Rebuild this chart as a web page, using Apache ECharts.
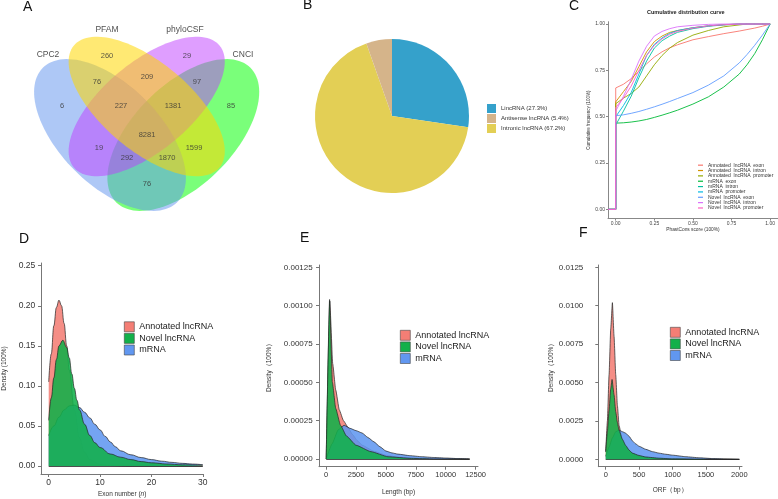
<!DOCTYPE html>
<html><head><meta charset="utf-8">
<script src="https://cdn.jsdelivr.net/npm/echarts@6/dist/echarts.min.js"></script>
<style>html,body{margin:0;padding:0;background:#fff}#c{width:778px;height:499px}</style>
</head><body><div id="c"></div>
<script>
// ---------- Panel A : Venn ----------
const vennSets = ['CPC2', 'PFAM', 'phyloCSF', 'CNCI'];
const vennCounts = [260, 29, 76, 209, 97, 6, 227, 1381, 85, 8281, 19, 1599, 292, 1870, 76];
// ---------- Panel B : pie ----------
const pieNames = ['LincRNA (27.3%)', 'Intronic lncRNA (67.2%)', 'Antisense lncRNA (5.4%)'];
const pieValues = [27.3, 67.2, 5.4];
const pieLegendOrder = ['LincRNA (27.3%)', 'Antisense lncRNA (5.4%)', 'Intronic lncRNA (67.2%)'];
// ---------- Panel C : cumulative distribution ----------
const cdfNames = ['Annotated  lncRNA  exon', 'Annotated  lncRNA  intron', 'Annotated  lncRNA  promoter',
  'mRNA  exon', 'mRNA  intron', 'mRNA  promoter', 'Novel  lncRNA  exon', 'Novel  lncRNA  intron', 'Novel  lncRNA  promoter'];
const cdfX = [0, 0.05, 0.1, 0.15, 0.2, 0.25, 0.3, 0.35, 0.4, 0.5, 0.6, 0.7, 0.8, 0.85, 0.9, 0.95, 1.0];
const cdfAnnExon   = [0.655, 0.675, 0.705, 0.745, 0.785, 0.822, 0.85, 0.872, 0.888, 0.915, 0.932, 0.948, 0.962, 0.97, 0.978, 0.988, 1.0];
const cdfAnnIntron = [0.58, 0.635, 0.69, 0.77, 0.85, 0.905, 0.935, 0.955, 0.965, 0.98, 0.99, 0.996, 1, 1, 1, 1, 1];
const cdfAnnProm   = [0.57, 0.60, 0.625, 0.66, 0.72, 0.78, 0.83, 0.87, 0.90, 0.94, 0.965, 0.985, 0.995, 1, 1, 1, 1];
const cdfMExon     = [0.465, 0.467, 0.471, 0.477, 0.485, 0.496, 0.508, 0.521, 0.535, 0.568, 0.607, 0.66, 0.73, 0.78, 0.84, 0.915, 1];
const cdfMIntron   = [0.455, 0.53, 0.61, 0.71, 0.80, 0.87, 0.91, 0.935, 0.955, 0.975, 0.988, 0.995, 1, 1, 1, 1, 1];
const cdfMProm     = [0.50, 0.56, 0.63, 0.73, 0.83, 0.89, 0.925, 0.95, 0.965, 0.98, 0.99, 0.997, 1, 1, 1, 1, 1];
const cdfNExon     = [0.505, 0.51, 0.518, 0.528, 0.54, 0.553, 0.567, 0.582, 0.598, 0.63, 0.67, 0.72, 0.79, 0.835, 0.885, 0.94, 1];
const cdfNIntron   = [0.53, 0.61, 0.70, 0.80, 0.88, 0.935, 0.96, 0.975, 0.985, 0.993, 0.998, 1, 1, 1, 1, 1, 1];
const cdfNProm     = [0.55, 0.60, 0.665, 0.75, 0.83, 0.885, 0.92, 0.945, 0.96, 0.978, 0.99, 0.996, 1, 1, 1, 1, 1];
const cdfTicks = [0, 0.25, 0.5, 0.75, 1];
// ---------- Panels D/E/F : densities ----------
const densNames = ['Annotated lncRNA', 'Novel lncRNA', 'mRNA'];
// D: exon number
const dAnnX = [0, 0.5, 1, 1.5, 2, 2.5, 3, 3.5, 4, 5, 6, 7, 8, 10, 12, 15, 20, 30];
const dAnnY = [0.105, 0.14, 0.175, 0.198, 0.207, 0.2, 0.178, 0.15, 0.12, 0.07, 0.035, 0.017, 0.008, 0.002, 0.0005, 0.0001, 0, 0];
const dNovX = [0, 0.5, 1, 1.5, 2, 2.75, 3.5, 4, 4.5, 5, 5.5, 6, 7, 8, 9, 10, 12, 14, 16, 18, 20, 23, 26, 30];
const dNovY = [0.057, 0.085, 0.11, 0.133, 0.15, 0.157, 0.148, 0.135, 0.115, 0.097, 0.082, 0.07, 0.052, 0.038, 0.029, 0.023, 0.015, 0.011, 0.008, 0.0055, 0.004, 0.0025, 0.0015, 0.001];
const dMrnX = [0, 1, 2, 3, 4, 5, 6, 7, 8, 9, 10, 11, 12, 13, 14, 16, 18, 20, 22, 24, 26, 28, 30];
const dMrnY = [0.038, 0.05, 0.061, 0.07, 0.075, 0.076, 0.073, 0.067, 0.06, 0.052, 0.045, 0.037, 0.03, 0.024, 0.019, 0.014, 0.0105, 0.008, 0.006, 0.0045, 0.0033, 0.0024, 0.0016];
const dXTicks = [0, 10, 20, 30];
const dYTicks = [0, 0.05, 0.1, 0.15, 0.2, 0.25];
// E: length
const eAnnX = [0, 300, 550, 800, 1100, 1450, 1800, 2200, 2600, 3000, 4000, 5000, 6000, 8000, 10000, 12000];
const eAnnY = [0, 0.00103, 0.00062, 0.00045, 0.00032, 0.00025, 0.00021, 0.00016, 0.00012, 0.00009, 0.00005, 0.000025, 0.000012, 0.000004, 0.000001, 0];
const eNovX = [0, 285, 520, 800, 1200, 1700, 2500, 3750, 5170, 7150, 9000, 12000];
const eNovY = [0, 0.00104, 0.0005, 0.00033, 0.00022, 0.00015, 0.00009, 0.000048, 0.000015, 0.000004, 0.000001, 0];
const eMrnX = [0, 500, 1000, 1500, 2000, 2500, 3000, 3500, 4000, 4500, 5000, 5500, 6000, 7000, 8000, 9000, 10000, 11000, 12000];
const eMrnY = [0, 0.0001, 0.00019, 0.00022, 0.0002, 0.000185, 0.00017, 0.00014, 0.000112, 0.00008, 0.000052, 0.00004, 0.000032, 0.000022, 0.000015, 0.00001, 0.0000065, 0.000003, 0];
const eXTicks = [0, 2500, 5000, 7500, 10000, 12500];
const eYTicks = [0, 0.00025, 0.0005, 0.00075, 0.001, 0.00125];
// F: ORF
const fAnnX = [0, 25, 50, 75, 100, 125, 150, 175, 200, 250, 300, 400, 500, 700, 1000, 2000];
const fAnnY = [0.0005, 0.0025, 0.0055, 0.0085, 0.0102, 0.008, 0.0055, 0.0035, 0.0022, 0.0012, 0.0008, 0.0004, 0.0002, 0.0001, 0.00003, 0];
const fNovX = [0, 25, 50, 75, 95, 125, 150, 175, 200, 250, 300, 350, 400, 500, 600, 800, 1000, 1500, 2000];
const fNovY = [0.0005, 0.0018, 0.0032, 0.0046, 0.0052, 0.0042, 0.0031, 0.0024, 0.0019, 0.0013, 0.0009, 0.0006, 0.0004, 0.00025, 0.00015, 0.00007, 0.00003, 0.00001, 0];
const fMrnX = [0, 50, 100, 150, 200, 250, 300, 350, 400, 450, 500, 600, 700, 800, 900, 1000, 1200, 1400, 1600, 1800, 2000];
const fMrnY = [0.0002, 0.0008, 0.0014, 0.0018, 0.0019, 0.0018, 0.0017, 0.0015, 0.0012, 0.001, 0.00085, 0.00065, 0.0005, 0.0004, 0.00033, 0.00027, 0.00017, 0.0001, 0.00005, 0.00002, 0];
const fXTicks = [0, 500, 1000, 1500, 2000];
const fYTicks = [0, 0.0025, 0.005, 0.0075, 0.01, 0.0125];

// ---------- layout / style ----------
const FONT = 'Liberation Sans, Arial, Helvetica, sans-serif';
const vennLayout = [
  {cx: 110, cy: 135, rot: 45, a: 95, b: 50},
  {cx: 146.7, cy: 106.5, rot: 40, a: 95, b: 44},
  {cx: 146.7, cy: 106.5, rot: -40, a: 95, b: 44},
  {cx: 183.3, cy: 135, rot: -45, a: 95, b: 50}];
const vennColors = ['rgba(100,149,237,0.52)', 'rgba(255,215,0,0.55)', 'rgba(191,62,255,0.5)', 'rgba(0,255,0,0.52)'];
const vennDrawOrder = [3, 0, 2, 1]; // CNCI, CPC2, phyloCSF, PFAM
const vennNamePos = [[48, 55], [107, 30], [185, 30], [243, 55]];
const vennLabelPos = [[107, 56], [187, 56], [97, 82], [147, 77], [197, 82], [62, 106], [121, 106], [173, 106], [231, 106], [147, 135], [99, 148], [194, 148], [127, 158], [167, 158], [147, 184]];
const pieColors = ['#35a1cb', '#e3cf55', '#d5b48a'];
const cdfColors = ['#F8766D', '#D39200', '#93AA00', '#00BA38', '#00C19F', '#00B9E3', '#619CFF', '#DB72FB', '#FF61C3'];
const densColors = ['#f47e75', '#12b04a', '#6197f0'];

const zip = (xs, ys) => xs.map((x, i) => [x, ys[i]]);
const cdfYs = [cdfAnnExon, cdfAnnIntron, cdfAnnProm, cdfMExon, cdfMIntron, cdfMProm, cdfNExon, cdfNIntron, cdfNProm];
const cXMin = -0.05;

function densAxis(gi, min, max, ticks, dec, fs, margin, name, nameGap, nameRich) {
  const a = {
    gridIndex: gi, type: 'value', min: min, max: max,
    splitLine: {show: false},
    axisLine: {show: true, onZero: false, lineStyle: {color: '#777', width: 1}},
    axisTick: {show: true, length: 3, lineStyle: {color: '#777'}, customValues: ticks},
    axisLabel: {fontSize: fs, color: '#333', margin: margin, customValues: ticks,
      formatter: v => dec === null ? String(v) : v.toFixed(dec)},
    name: name, nameLocation: 'middle', nameGap: nameGap,
    nameTextStyle: {fontSize: 6.5, color: '#333'}
  };
  if (nameRich) a.nameTextStyle.rich = nameRich;
  return a;
}

function densSeries(xi, names, xsArr, ysArr, smooth) {
  return names.map((n, k) => ({
    type: 'line', name: n, xAxisIndex: xi, yAxisIndex: xi,
    data: zip(xsArr[k], ysArr[k]), showSymbol: false, smooth: smooth, smoothMonotone: 'x',
    itemStyle: {color: densColors[k]},
    lineStyle: {color: '#222', width: 0.7},
    areaStyle: {color: densColors[k], opacity: 0.88, origin: 0},
    markLine: k === 2 ? {silent: true, symbol: 'none', label: {show: false},
      lineStyle: {color: '#222', width: 0.8, type: 'solid'},
      data: [[{coord: [xsArr[k][0], 0]}, {coord: [xsArr[k][xsArr[k].length - 1], 0]}]]} : undefined
  }));
}

function densLegend(left, top) {
  return {left: left, top: top, orient: 'vertical', padding: 0, itemGap: 1, itemWidth: 10, itemHeight: 10,
    icon: 'rect', selectedMode: false,
    data: densNames.map((n, k) => ({name: n, itemStyle: {color: densColors[k], borderColor: '#444', borderWidth: 0.6}})),
    textStyle: {fontSize: 9, color: '#222', fontFamily: FONT}};
}

const option = {
  animation: false,
  textStyle: {fontFamily: FONT},
  title: [
    {text: 'A', left: 23, top: 0},
    {text: 'B', left: 303, top: -2},
    {text: 'C', left: 569, top: -1},
    {text: 'D', left: 19, top: 232},
    {text: 'E', left: 300, top: 231},
    {text: 'F', left: 579, top: 226},
    {text: 'Cumulative distribution curve', left: 647, top: 9, textStyle: {fontSize: 5.5, fontWeight: 'bold', color: '#222'}}
  ].map(t => Object.assign({padding: 0, textStyle: {fontSize: 14, fontWeight: 'normal', color: '#111'}}, t)),
  legend: [
    {left: 487, top: 104, orient: 'vertical', padding: 0, itemGap: 1, itemWidth: 9, itemHeight: 9, icon: 'rect',
      selectedMode: false, data: pieLegendOrder, textStyle: {fontSize: 6, color: '#333'}},
    {left: 698, top: 162.5, orient: 'vertical', padding: 0, itemGap: 0, itemWidth: 5, itemHeight: 1.2, icon: 'rect',
      selectedMode: false, data: cdfNames, textStyle: {fontSize: 5, lineHeight: 5.35, color: '#333'}},
    densLegend(124, 321.5),
    densLegend(400, 330),
    densLegend(670, 327)
  ],
  grid: [
    {left: 0, top: 0, width: 270, height: 230},
    {left: 608, top: 21.7, width: 172, height: 196.9},
    {left: 38, top: 263, width: 165.3, height: 211},
    {left: 319, top: 265, width: 159, height: 201.7},
    {left: 598.3, top: 265, width: 143.7, height: 201.7}
  ],
  xAxis: [
    {gridIndex: 0, type: 'value', min: 0, max: 270, show: false},
    {gridIndex: 1, type: 'value', min: cXMin, max: 1.05, splitLine: {show: false},
      axisLine: {onZero: false, lineStyle: {color: '#888', width: 1}},
      axisTick: {length: 2, lineStyle: {color: '#888'}, customValues: cdfTicks},
      axisLabel: {fontSize: 5, color: '#444', margin: 3, customValues: cdfTicks, formatter: v => v.toFixed(2)},
      name: 'PhastCons score (100%)', nameLocation: 'middle', nameGap: 8, nameTextStyle: {fontSize: 4.8, color: '#333'}},
    densAxis(2, -1.5, 30.1, dXTicks, null, 8.5, 4, 'Exon number ({i|n})', 17, {i: {fontStyle: 'italic', fontSize: 6.5, color: '#333'}}),
    densAxis(3, -600, 12700, eXTicks, null, 7.5, 4, 'Length (bp)', 22),
    densAxis(4, -111, 2040, fXTicks, null, 7.5, 4, 'ORF（bp）', 20)
  ],
  yAxis: [
    {gridIndex: 0, type: 'value', min: 0, max: 230, inverse: true, show: false},
    {gridIndex: 1, type: 'value', min: -0.05, max: 1.0125, splitLine: {show: false},
      axisLine: {show: true, onZero: false, lineStyle: {color: '#888', width: 1}},
      axisTick: {show: true, length: 2, lineStyle: {color: '#888'}, customValues: cdfTicks},
      axisLabel: {fontSize: 5, color: '#444', margin: 3, customValues: cdfTicks, formatter: v => v.toFixed(2)},
      name: 'Cumulative frequency (100%)', nameLocation: 'middle', nameGap: 14, nameTextStyle: {fontSize: 4.5, color: '#333'}},
    densAxis(2, -0.01, 0.2534, dYTicks, 2, 8.5, 5.7, 'Density (100%)', 33),
    densAxis(3, -0.00005, 0.001265, eYTicks, 5, 8, 6.3, 'Density（100%）', 46),
    densAxis(4, -0.00048, 0.01265, fYTicks, 4, 8, 15, 'Density（100%）', 40)
  ],
  series: [
    {type: 'custom', xAxisIndex: 0, yAxisIndex: 0, silent: true, clip: false,
      data: vennDrawOrder.map(i => ({name: vennSets[i], value: [i, 0]})),
      renderItem: function (params, api) {
        const si = vennDrawOrder[params.dataIndex];
        const e = vennLayout[si], th = e.rot * Math.PI / 180, pts = [];
        for (let k = 0; k < 120; k++) {
          const t = k / 120 * 2 * Math.PI;
          const x = e.cx + e.a * Math.cos(t) * Math.cos(th) - e.b * Math.sin(t) * Math.sin(th);
          const y = e.cy + e.a * Math.cos(t) * Math.sin(th) + e.b * Math.sin(t) * Math.cos(th);
          pts.push(api.coord([x, y]));
        }
        return {type: 'polygon', shape: {points: pts}, style: {fill: vennColors[si]}};
      }},
    {type: 'scatter', xAxisIndex: 0, yAxisIndex: 0, silent: true, symbolSize: 1, itemStyle: {color: 'rgba(0,0,0,0)'}, z: 5,
      data: vennLabelPos.map((p, i) => [p[0], p[1], vennCounts[i]]),
      label: {show: true, position: 'inside', formatter: p => String(p.value[2]), fontSize: 7.5, color: '#333'}},
    {type: 'scatter', xAxisIndex: 0, yAxisIndex: 0, silent: true, symbolSize: 1, itemStyle: {color: 'rgba(0,0,0,0)'}, z: 5,
      data: vennNamePos.map((p, i) => [p[0], p[1], vennSets[i]]),
      label: {show: true, position: 'inside', formatter: p => String(p.value[2]), fontSize: 8.5, color: '#222'}},
    {type: 'pie', center: [392, 116], radius: 77, startAngle: 90, clockwise: true, silent: true,
      label: {show: false}, labelLine: {show: false}, itemStyle: {borderWidth: 0},
      data: pieNames.map((n, i) => ({name: n, value: pieValues[i], itemStyle: {color: pieColors[i]}}))},
    ...cdfNames.map((n, k) => ({
      type: 'line', name: n, xAxisIndex: 1, yAxisIndex: 1, showSymbol: false, z: 3,
      data: [[cXMin, 0], [0, 0]].concat(zip(cdfX, cdfYs[k])),
      itemStyle: {color: cdfColors[k]}, lineStyle: {color: cdfColors[k], width: 0.9}
    })),
    ...densSeries(2, densNames, [dAnnX, dNovX, dMrnX], [dAnnY, dNovY, dMrnY], 0.4),
    ...densSeries(3, densNames, [eAnnX, eNovX, eMrnX], [eAnnY, eNovY, eMrnY], 0.15),
    ...densSeries(4, densNames, [fAnnX, fNovX, fMrnX], [fAnnY, fNovY, fMrnY], 0.15)
  ]
};
// draw order in density panels: red, blue, green on top
option.series.forEach(s => {
  if (s.type === 'line' && s.name === 'Annotated lncRNA') s.z = 3;
  if (s.type === 'line' && s.name === 'mRNA') s.z = 4;
  if (s.type === 'line' && s.name === 'Novel lncRNA') s.z = 5;
});
const chart = echarts.init(document.getElementById('c'), null, {renderer: 'canvas'});
chart.setOption(option);
</script></body></html>
